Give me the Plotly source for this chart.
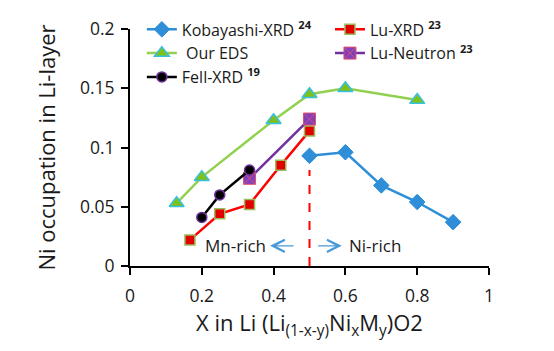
import plotly.graph_objects as go

# ---- data ----
kob_x = [0.5, 0.6, 0.7, 0.8, 0.9]
kob_y = [0.093, 0.096, 0.068, 0.054, 0.037]

luxrd_x = [0.167, 0.25, 0.333, 0.42, 0.5]
luxrd_y = [0.022, 0.044, 0.052, 0.085, 0.114]

eds_x = [0.13, 0.2, 0.4, 0.5, 0.6, 0.8]
eds_y = [0.053, 0.075, 0.123, 0.145, 0.150, 0.140]

lun_x = [0.333, 0.5]
lun_y = [0.074, 0.124]

fell_x = [0.2, 0.25, 0.333]
fell_y = [0.041, 0.060, 0.081]

divider_x = 0.5
divider_top = 0.081

FONT = "Open Sans"
TXT = "#1a1a1a"

fig = go.Figure()

fig.add_trace(go.Scatter(
    x=kob_x, y=kob_y, mode="lines+markers",
    name="Kobayashi-XRD <b><sup>24</sup></b>",
    line=dict(color="#2e8fd8", width=2.5),
    marker=dict(symbol="diamond", size=12, color="#2e8fd8",
                line=dict(color="#2e8fd8", width=1)),
    legend="legend"))

fig.add_trace(go.Scatter(
    x=luxrd_x, y=luxrd_y, mode="lines+markers",
    name="Lu-XRD <b><sup>23</sup></b>",
    line=dict(color="#ff0000", width=2.5),
    marker=dict(symbol="square", size=10, color="#e00000",
                line=dict(color="#9bbb59", width=1.5)),
    legend="legend2"))

fig.add_trace(go.Scatter(
    x=eds_x, y=eds_y, mode="lines+markers",
    name=" Our EDS",
    line=dict(color="#92d050", width=2.5),
    marker=dict(symbol="triangle-up", size=13, color="#7cc11c",
                line=dict(color="#38c0e0", width=1.5)),
    legend="legend"))

fig.add_trace(go.Scatter(
    x=lun_x, y=lun_y, mode="lines+markers",
    name="Lu-Neutron <b><sup>23</sup></b>",
    line=dict(color="#7030a0", width=2.5),
    marker=dict(symbol="square-x", size=12, color="#7f3fbf",
                line=dict(color="#e0506a", width=1)),
    legend="legend2"))

fig.add_trace(go.Scatter(
    x=fell_x, y=fell_y, mode="lines+markers",
    name="Fell-XRD <b><sup>19</sup></b>",
    line=dict(color="#000000", width=2.5),
    marker=dict(symbol="circle", size=10, color="#000000",
                line=dict(color="#7030a0", width=1.5)),
    legend="legend"))

fig.add_shape(type="line", x0=divider_x, x1=divider_x, y0=0, y1=divider_top,
              xref="x", yref="y", line=dict(color="#ff0000", width=2, dash="dash"))

ann_font = dict(family=FONT, size=17, color=TXT)
fig.add_annotation(x=0.385, y=0.017, xref="x", yref="y", text="Mn-rich",
                   showarrow=False, xanchor="right", font=ann_font)
fig.add_annotation(x=0.604, y=0.017, xref="x", yref="y", text="Ni-rich",
                   showarrow=False, xanchor="left", font=ann_font)
fig.add_annotation(x=0.39, y=0.017, ax=0.46, ay=0.017, xref="x", yref="y",
                   axref="x", ayref="y", text="", showarrow=True,
                   arrowhead=5, arrowsize=2, arrowwidth=1.2, arrowcolor="#4a9ad8")
fig.add_annotation(x=0.59, y=0.017, ax=0.52, ay=0.017, xref="x", yref="y",
                   axref="x", ayref="y", text="", showarrow=True,
                   arrowhead=5, arrowsize=2, arrowwidth=1.2, arrowcolor="#4a9ad8")

axis_common = dict(showgrid=False, zeroline=False, showline=True,
                   linecolor="#000000", linewidth=2, ticks="outside",
                   ticklen=7, tickwidth=2, tickcolor="#000000",
                   tickfont=dict(family=FONT, size=17.5, color=TXT))

fig.update_layout(
    width=554, height=351,
    margin=dict(l=130, r=65, t=15, b=85),
    paper_bgcolor="white", plot_bgcolor="white",
    font=dict(family=FONT, color=TXT),
    xaxis=dict(range=[0, 1], dtick=0.2, **axis_common, ticklabelstandoff=6,
               title=dict(text="X in Li (Li<sub>(1-x-y)</sub>Ni<sub>x</sub>M<sub>y</sub>)O2",
                          font=dict(family=FONT, size=22, color=TXT), standoff=10)),
    yaxis=dict(range=[0, 0.2], dtick=0.05, **axis_common, ticklabelstandoff=3,
               title=dict(text="Ni occupation in Li-layer",
                          font=dict(family=FONT, size=22, color=TXT), standoff=18)),
    legend=dict(x=0.033, y=1.07, xanchor="left", yanchor="top",
                bgcolor="rgba(0,0,0,0)", font=dict(family=FONT, size=16, color=TXT),
                itemwidth=30, tracegroupgap=0),
    legend2=dict(x=0.557, y=1.07, xanchor="left", yanchor="top",
                 bgcolor="rgba(0,0,0,0)", font=dict(family=FONT, size=16, color=TXT),
                 itemwidth=30, tracegroupgap=0),
)

fig.write_html("out.html")
